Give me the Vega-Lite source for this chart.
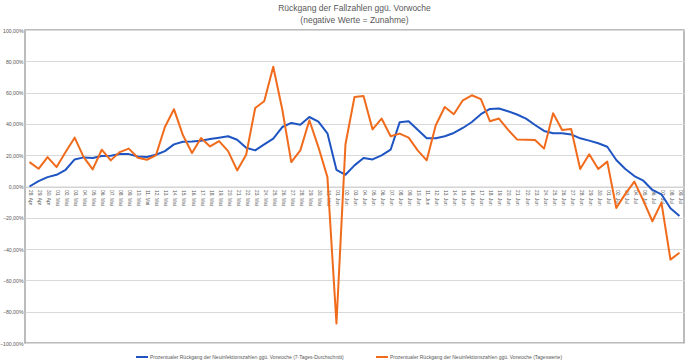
{
  "$schema": "https://vega.github.io/schema/vega-lite/v6.json",
  "autosize": {"type": "none"},
  "padding": {"left": 25, "top": 30, "right": 5, "bottom": 20},
  "width": 659,
  "height": 313,
  "background": "white",
  "config": {
    "font": "Liberation Sans",
    "view": {"stroke": "#a6a6a6", "strokeWidth": 1.5}
  },
  "title": {
    "text": ["Rückgang der Fallzahlen ggü. Vorwoche", "(negative Werte = Zunahme)"],
    "fontSize": 8.5,
    "fontWeight": "normal",
    "color": "#595959",
    "lineHeight": 12,
    "offset": 4,
    "anchor": "middle"
  },
  "data": {
    "values": [
      {"Datum": "28. Apr", "a": 0, "b": 15.6},
      {"Datum": "29. Apr", "a": 3.4, "b": 11.3},
      {"Datum": "30. Apr", "a": 6.0, "b": 18.8},
      {"Datum": "01. Mai", "a": 7.5, "b": 12.4},
      {"Datum": "02. Mai", "a": 10.7, "b": 22.0},
      {"Datum": "03. Mai", "a": 17.3, "b": 31.2},
      {"Datum": "04. Mai", "a": 18.6, "b": 18.8},
      {"Datum": "05. Mai", "a": 18.2, "b": 10.9},
      {"Datum": "06. Mai", "a": 19.5, "b": 23.5},
      {"Datum": "07. Mai", "a": 19.7, "b": 16.7},
      {"Datum": "08. Mai", "a": 20.7, "b": 22.0},
      {"Datum": "09. Mai", "a": 20.7, "b": 24.2},
      {"Datum": "10. Mai", "a": 19.2, "b": 18.4},
      {"Datum": "11. Mai", "a": 18.8, "b": 17.1},
      {"Datum": "12. Mai", "a": 20.3, "b": 19.9},
      {"Datum": "13. Mai", "a": 22.6, "b": 38.0},
      {"Datum": "14. Mai", "a": 26.9, "b": 49.4},
      {"Datum": "15. Mai", "a": 28.6, "b": 32.7},
      {"Datum": "16. Mai", "a": 28.8, "b": 21.4},
      {"Datum": "17. Mai", "a": 29.3, "b": 31.0},
      {"Datum": "18. Mai", "a": 30.3, "b": 25.6},
      {"Datum": "19. Mai", "a": 31.2, "b": 29.0},
      {"Datum": "20. Mai", "a": 32.1, "b": 22.6},
      {"Datum": "21. Mai", "a": 29.9, "b": 10.3},
      {"Datum": "22. Mai", "a": 24.8, "b": 20.3},
      {"Datum": "23. Mai", "a": 23.1, "b": 50.2},
      {"Datum": "24. Mai", "a": 26.9, "b": 54.5},
      {"Datum": "25. Mai", "a": 30.6, "b": 76.5},
      {"Datum": "26. Mai", "a": 38.0, "b": 49.2},
      {"Datum": "27. Mai", "a": 40.6, "b": 15.6},
      {"Datum": "28. Mai", "a": 39.5, "b": 23.1},
      {"Datum": "29. Mai", "a": 44.4, "b": 42.3},
      {"Datum": "30. Mai", "a": 41.5, "b": 25.2},
      {"Datum": "31. Mai", "a": 34.0, "b": 6.0},
      {"Datum": "01. Jun", "a": 10.7, "b": -87.5},
      {"Datum": "02. Jun", "a": 7.5, "b": 27.0},
      {"Datum": "03. Jun", "a": 13.5, "b": 57.2},
      {"Datum": "04. Jun", "a": 18.2, "b": 57.9},
      {"Datum": "05. Jun", "a": 17.3, "b": 36.5},
      {"Datum": "06. Jun", "a": 19.9, "b": 43.4},
      {"Datum": "07. Jun", "a": 23.5, "b": 32.1},
      {"Datum": "08. Jun", "a": 41.0, "b": 33.8},
      {"Datum": "09. Jun", "a": 41.7, "b": 31.2},
      {"Datum": "10. Jun", "a": 36.3, "b": 23.1},
      {"Datum": "11. Jun", "a": 30.8, "b": 16.7},
      {"Datum": "12. Jun", "a": 30.8, "b": 39.1},
      {"Datum": "13. Jun", "a": 32.1, "b": 50.8},
      {"Datum": "14. Jun", "a": 34.2, "b": 46.2},
      {"Datum": "15. Jun", "a": 37.4, "b": 55.1},
      {"Datum": "16. Jun", "a": 41.2, "b": 58.3},
      {"Datum": "17. Jun", "a": 46.2, "b": 55.8},
      {"Datum": "18. Jun", "a": 49.6, "b": 41.7},
      {"Datum": "19. Jun", "a": 49.8, "b": 43.4},
      {"Datum": "20. Jun", "a": 48.1, "b": 36.3},
      {"Datum": "21. Jun", "a": 46.0, "b": 30.1},
      {"Datum": "22. Jun", "a": 43.4, "b": 29.9},
      {"Datum": "23. Jun", "a": 39.3, "b": 29.7},
      {"Datum": "24. Jun", "a": 35.5, "b": 24.2},
      {"Datum": "25. Jun", "a": 34.0, "b": 46.8},
      {"Datum": "26. Jun", "a": 34.0, "b": 36.1},
      {"Datum": "27. Jun", "a": 33.3, "b": 36.7},
      {"Datum": "28. Jun", "a": 30.8, "b": 11.2},
      {"Datum": "29. Jun", "a": 29.3, "b": 20.6},
      {"Datum": "30. Jun", "a": 27.6, "b": 11.2},
      {"Datum": "01. Jul", "a": 25.4, "b": 15.9},
      {"Datum": "02. Jul", "a": 16.9, "b": -13.7},
      {"Datum": "03. Jul", "a": 11.2, "b": -4.7},
      {"Datum": "04. Jul", "a": 6.7, "b": 3.1},
      {"Datum": "05. Jul", "a": 3.7, "b": -9.0},
      {"Datum": "06. Jul", "a": -2.2, "b": -22.2},
      {"Datum": "07. Jul", "a": -5.0, "b": -10.3},
      {"Datum": "08. Jul", "a": -13.9, "b": -46.7},
      {"Datum": "09. Jul", "a": -18.8, "b": -42.3}
    ]
  },
  "transform": [
    {"fold": ["a", "b"], "as": ["Serie", "Wert"]}
  ],
  "mark": {"type": "line", "strokeWidth": 2, "strokeJoin": "round"},
  "encoding": {
    "x": {
      "field": "Datum",
      "type": "ordinal",
      "sort": null,
      "scale": {"type": "point", "padding": 0.5},
      "axis": {
        "title": null,
        "labelAngle": 90,
        "labelAlign": "left",
        "labelBaseline": "middle",
        "offset": -156.5,
        "labelFontSize": 4.8,
        "labelColor": "#595959",
        "labelPadding": 3,
        "labelOverlap": false,
        "ticks": false,
        "domainColor": "#d0d0d0",
        "domainWidth": 1,
        "grid": false
      }
    },
    "y": {
      "field": "Wert",
      "type": "quantitative",
      "scale": {"domain": [-100, 100], "nice": false},
      "axis": {
        "title": null,
        "values": [-100, -80, -60, -40, -20, 0, 20, 40, 60, 80, 100],
        "labelExpr": "replace(format(datum.value, '.2f'), '.', ',') + '%'",
        "labelFontSize": 5.2,
        "labelColor": "#595959",
        "labelPadding": 2,
        "ticks": false,
        "domain": false,
        "gridColor": "#d9d9d9",
        "gridWidth": 1
      }
    },
    "color": {
      "field": "Serie",
      "type": "nominal",
      "scale": {"domain": ["a", "b"], "range": ["#1f55c3", "#f06b1c"]},
      "legend": {
        "title": null,
        "orient": "none",
        "legendX": 110,
        "legendY": 320,
        "direction": "horizontal",
        "symbolType": "stroke",
        "symbolSize": 144,
        "symbolStrokeWidth": 2,
        "labelFontSize": 5,
        "labelColor": "#595959",
        "labelLimit": 400,
        "columnPadding": 28,
        "labelOffset": 1,
        "labelExpr": "datum.label == 'a' ? 'Prozentualer Rückgang der Neuinfektionszahlen ggü. Vorwoche (7-Tages-Durchschnitt)' : 'Prozentualer Rückgang der Neuinfektionszahlen ggü. Vorwoche (Tageswerte)'"
      }
    }
  }
}
